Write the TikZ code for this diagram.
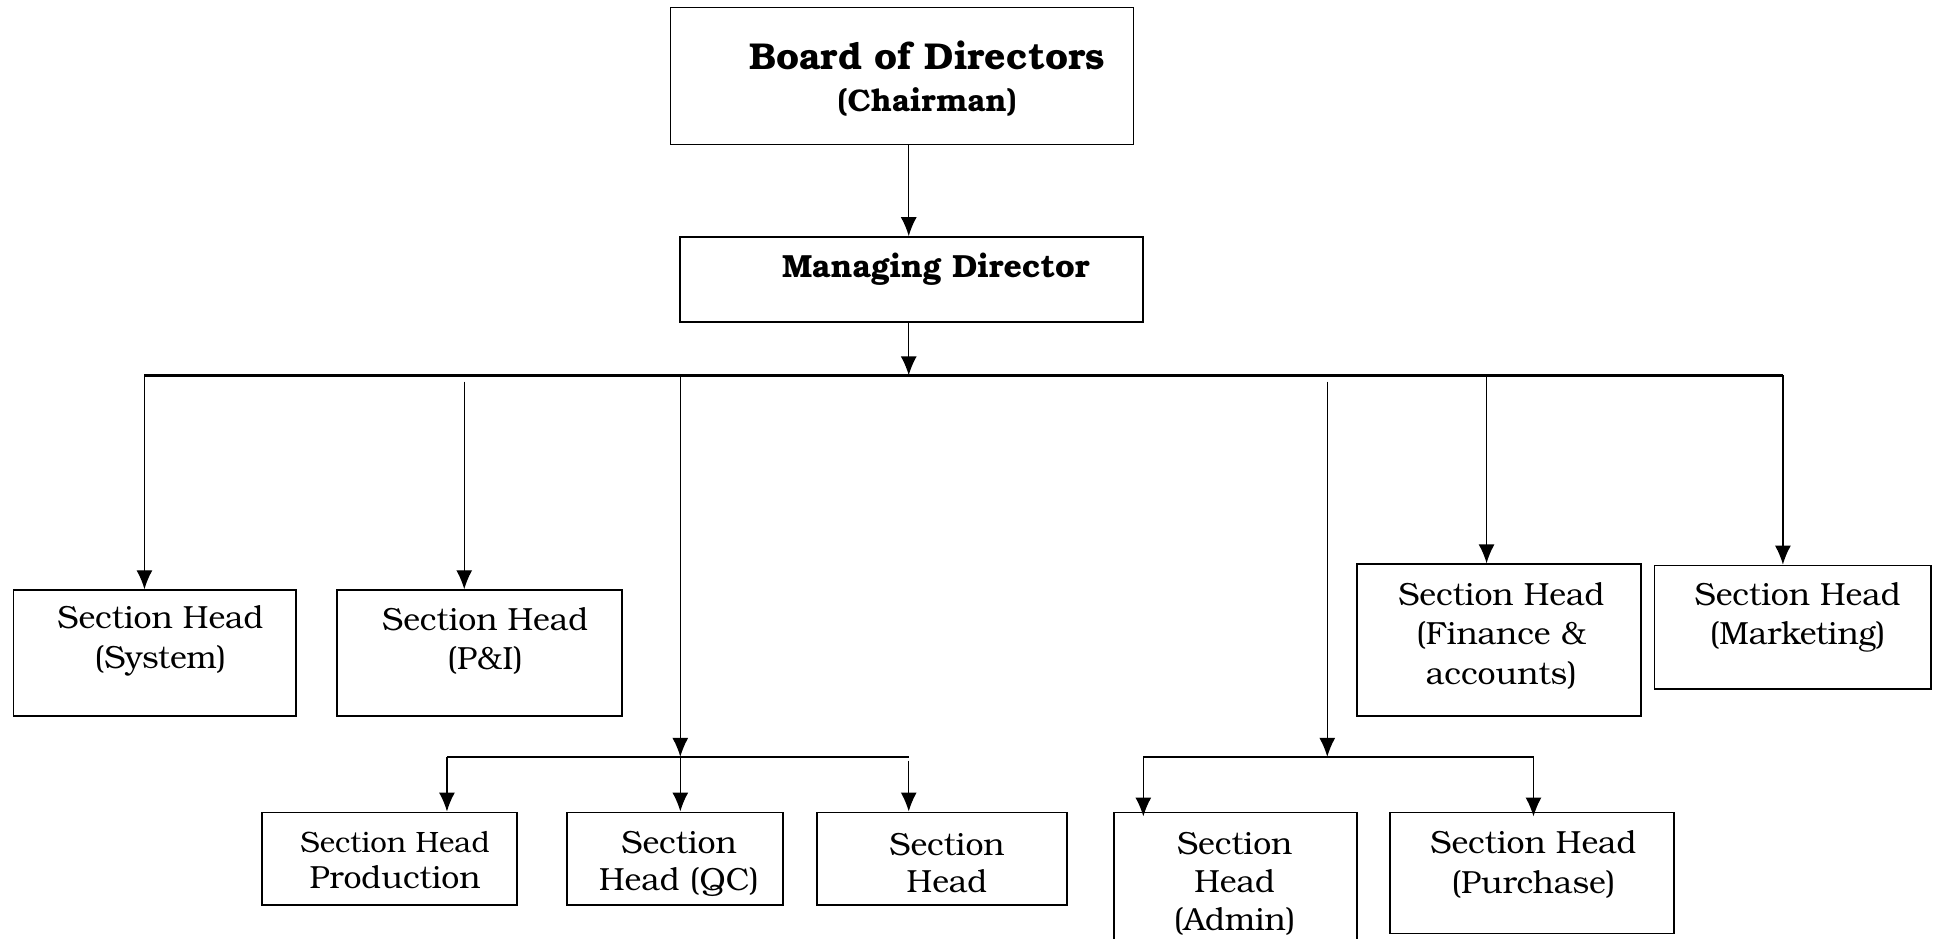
\documentclass[tikz,border=0pt]{standalone}
\usepackage{fontspec}
\setmainfont{TeX Gyre Bonum}
\usetikzlibrary{arrows.meta,fit}
\begin{document}
\begin{tikzpicture}[x=0.61735pt,y=-0.61735pt,
  box/.style={draw,line width=0.9pt,inner sep=0pt,rectangle},
  txt/.style={inner sep=0pt,align=center,font=\fontsize{16}{19.75}\selectfont},
  arr/.style={line width=0.7pt,-{Latex[length=9.5pt,width=8pt]}},
  busline/.style={line width=1.2pt}]
\useasboundingbox (0,0) rectangle (1568,760);
% boxes
\node[box,fit={(543,6) (918,117)}] (board) {};
\node[box,fit={(551,192) (926,261)}] (md) {};
\node[box,fit={(11,478) (240,580)}] (sys) {};
\node[box,fit={(273,478) (504,580)}] (pi) {};
\node[box,fit={(1099,457) (1329,580)}] (fin) {};
\node[box,fit={(1340,458) (1564,558)}] (mkt) {};
\node[box,fit={(212,658) (419,733)}] (prod) {};
\node[box,fit={(459,658) (634,733)}] (qc) {};
\node[box,fit={(662,658) (864,733)}] (sh) {};
\node[box,fit={(902,658) (1099,785)}] (adm) {};
\node[box,fit={(1126,658) (1356,756)}] (pur) {};
% texts
\node[txt,font=\bfseries\fontsize{18.7}{21}\selectfont] (tboard) at (751,64) {Board of Directors\\{\fontsize{15.6}{21}\selectfont (Chairman)}};
\node[txt,font=\bfseries\fontsize{16}{19}\selectfont] (tmd) at (758,218) {Managing Director};
\node[txt] (tsys) at (130,519) {Section Head\\(System)};
\node[txt] (tpi) at (393,519) {Section Head\\(P\&I)};
\node[txt] (tfin) at (1216,515) {Section Head\\(Finance \&\\accounts)};
\node[txt] (tmkt) at (1456,500) {Section Head\\(Marketing)};
\node[txt,font=\fontsize{16}{18}\selectfont] (tprod) at (320,697) {{\fontsize{14.7}{18}\selectfont Section Head}\\Production};
\node[txt,font=\fontsize{16}{18.5}\selectfont] (tqc) at (550,700) {Section\\Head (QC)};
\node[txt,font=\fontsize{16}{18.5}\selectfont] (tsh) at (767,699) {Section\\Head};
\node[txt,font=\fontsize{16}{19}\selectfont] (tadm) at (1000,716) {Section\\Head\\(Admin)};
\node[txt] (tpur) at (1242,700) {Section Head\\(Purchase)};
% junction coordinates
\coordinate (bus0) at (736,304);
\coordinate (busL) at (117,304);
\coordinate (busR) at (1444,304);
\coordinate (p1) at (376,309);
\coordinate (b3) at (551,304);
\coordinate (sub1) at (551,613);
\coordinate (p2) at (1075,309);
\coordinate (sub2) at (1075,613);
\coordinate (b5) at (1204,304);
\coordinate (s1L) at (362,613);
\coordinate (s1R) at (736,613);
\coordinate (s1Rb) at (736,616);
\coordinate (s2L) at (926,613);
\coordinate (s2R) at (1242,613);
% connectors
\draw[arr] (board.south -| bus0) -- (md.north -| bus0);
\draw[arr] (md.south -| bus0) -- (bus0);
\draw[busline] (busL) -- (busR);
\draw[arr] (busL) -- (sys.north -| busL);
\draw[arr] (p1) -- (pi.north -| p1);
\draw[arr] (b3) -- (sub1);
\draw[arr] (p2) -- (sub2);
\draw[arr] (b5) -- (fin.north -| b5);
\draw[arr] (busR) -- (mkt.north -| busR);
\draw[busline] (s1L) -- (s1R);
\draw[arr] (s1L) -- (prod.north -| s1L);
\draw[arr] (sub1) -- (qc.north -| sub1);
\draw[arr] (s1Rb) -- (sh.north -| s1Rb);
\draw[busline] (s2L) -- (s2R);
\draw[arr] (s2L) -- ([yshift=-2.5pt]adm.north -| s2L);
\draw[arr] (s2R) -- ([yshift=-2.5pt]pur.north -| s2R);
\end{tikzpicture}
\end{document}
